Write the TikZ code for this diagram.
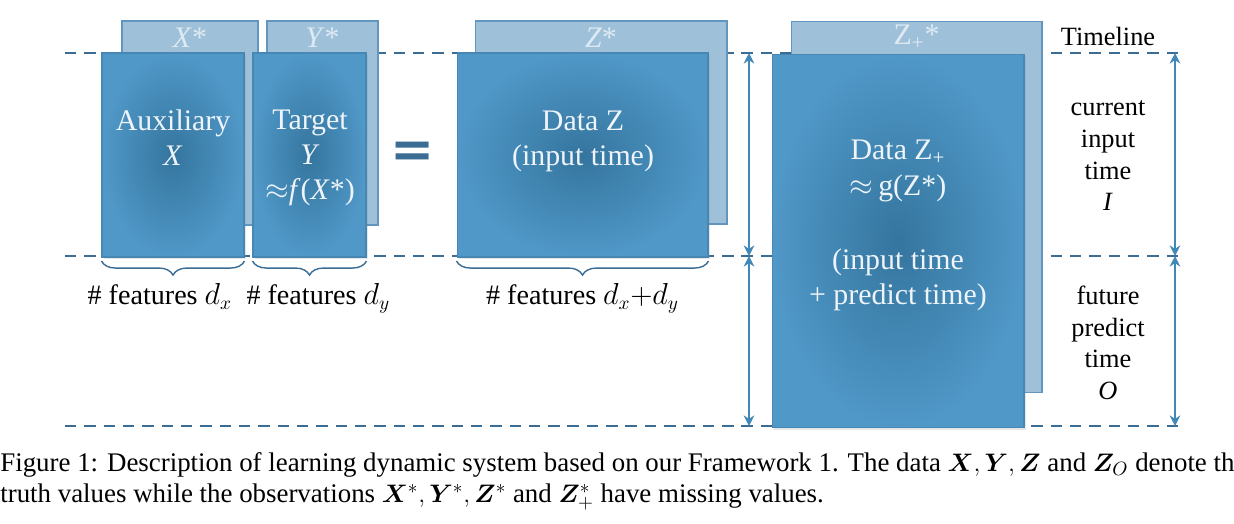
\documentclass[tikz,border=0pt]{standalone}
\usepackage{fontspec}
\setmainfont{Liberation Serif}
\newfontfamily\eqfont{DejaVu Sans}
\usepackage{bm}
\usepackage{tikz}
\usetikzlibrary{positioning, arrows.meta, decorations.pathreplacing, shadows}

\definecolor{frontlight}{RGB}{80,152,200}
\definecolor{frontdark}{RGB}{52,117,158}
\definecolor{backfill}{RGB}{158,193,217}
\definecolor{backline}{RGB}{98,150,190}
\definecolor{boxline}{RGB}{70,135,180}
\definecolor{dashcol}{RGB}{58,108,148}
\definecolor{arrowcol}{RGB}{66,136,182}
\definecolor{textlight}{RGB}{238,244,249}

\begin{document}
\begin{tikzpicture}[
            x=0.02cm, y=-0.02cm,
            backbox/.style={draw=backline, fill=backfill, line width=0.6pt, inner sep=0pt},
            frontbox/.style={draw=boxline, line width=0.6pt, shading=radial, inner color=frontdark, outer color=frontlight, inner sep=0pt, drop shadow={opacity=0.2, shadow xshift=1pt, shadow yshift=-1pt}},
            boxtext/.style={text=textlight, align=center, font=\fontsize{17}{20}\selectfont},
            startext/.style={text=textlight!80!backfill, font=\fontsize{17}{18}\selectfont},
            sidetext/.style={text=black, align=center, font=\fontsize{15}{18}\selectfont},
            featlabel/.style={text=black, font=\fontsize{16}{18}\selectfont},
            timeline/.style={dashcol, line width=1.1pt, dash pattern=on 6.5pt off 4.5pt},
            span/.style={arrowcol, line width=1.2pt, {Stealth[length=6pt, width=6pt]}-{Stealth[length=6pt, width=6pt]}},
            brace/.style={decorate, decoration={brace, mirror, amplitude=8pt}, dashcol, line width=0.8pt},
            captext/.style={anchor=west, inner sep=0pt, font=\fontsize{15.3}{17}\selectfont}
        ]
        \useasboundingbox (0,0) rectangle (1234,524);

        % Zeitlinien
        \coordinate (topL) at (65,53);
        \coordinate (topR) at (1180,53);
        \coordinate (midL) at (65,256);
        \coordinate (midR) at (1180,256);
        \coordinate (botL) at (65,426);
        \coordinate (botR) at (1180,426);
        \draw[timeline] (topL) -- (topR);
        \draw[timeline] (midL) -- (midR);
        \draw[timeline] (botL) -- (botR);

        % Beobachtungen (hinten)
        \node[backbox, minimum width=2.72cm, minimum height=4.08cm] (xstar) at (190,123) {};
        \node[backbox, minimum width=2.22cm, minimum height=4.08cm] (ystar) at (322.5,123) {};
        \node[backbox, minimum width=5.04cm, minimum height=4.06cm] (zstar) at (601,122.5) {};
        \node[backbox, minimum width=5.02cm, minimum height=7.44cm] (zpstar) at (916.5,207) {};
        \node[startext] at (190,38) {\textit{X}*};
        \node[startext] at (322.5,38) {\textit{Y}*};
        \node[startext] at (601,38) {\textit{Z}*};
        \node[startext] at (916.5,37) {Z\textsubscript{+}*};

        % Daten (vorne)
        \node[frontbox, minimum width=2.84cm, minimum height=4.08cm] (aux) at (173,155) {};
        \node[frontbox, minimum width=2.26cm, minimum height=4.08cm] (target) at (309.5,155) {};
        \node[frontbox, minimum width=5.02cm, minimum height=4.08cm] (dataz) at (582.5,155) {};
        \node[frontbox, minimum width=5.04cm, minimum height=7.48cm] (datazp) at (898,241) {};

        \node[boxtext] (auxtext) at (173,138) {Auxiliary\\\textit{X}};
        \node[boxtext] (targettext) at (310,158) {Target\\\textit{Y}\\$\approx$\textit{f}(\textit{X}*)};
        \node[boxtext] (dataztext) at (583,141) {Data Z\\(input time)};
        \node[boxtext] (datazptext) at (898,171) {Data Z\textsubscript{+}\\$\approx$\,g(Z*)};
        \node[boxtext] (datazptime) at (898,280) {(input time\\+ predict time)};

        \node[text=dashcol, font=\eqfont\bfseries\fontsize{30}{30}\selectfont] (eq) at (413,155) {=};

        % Klammern
        \draw[brace] ([yshift=-2pt]aux.south west) -- ([yshift=-2pt]aux.south east) node[midway, below=9pt, xshift=-7.5pt, featlabel] (dx) {\# features $d_x$};
        \draw[brace] ([yshift=-2pt]target.south west) -- ([yshift=-2pt]target.south east) node[midway, below=9pt, xshift=5pt, featlabel] (dy) {\# features $d_y$};
        \draw[brace] ([yshift=-2pt]dataz.south west) -- ([yshift=-2pt]dataz.south east) node[midway, below=9pt, featlabel] (dxy) {\# features $d_x{+}d_y$};

        % Pfeile
        \coordinate (la1) at (749,53);
        \coordinate (la2) at (749,256);
        \coordinate (la3) at (749,426);
        \coordinate (ra1) at (1175,53);
        \coordinate (ra2) at (1175,256);
        \coordinate (ra3) at (1175,426);
        \draw[span] (la1) -- (la2);
        \draw[span] (la2) -- (la3);
        \draw[span] (ra1) -- (ra2);
        \draw[span] (ra2) -- (ra3);

        % Zeitachse
        \node[sidetext] (timeline) at (1108,36) {Timeline};
        \node[sidetext] (current) at (1108,156) {current\\input\\time\\\textit{I}};
        \node[sidetext] (future) at (1108,343) {future\\predict\\time\\\textit{O}};

        % Bildunterschrift
        \node[captext] (cap1) at (0,465) {Figure 1: Description of learning dynamic system based on our Framework 1. The data $\bm{X}, \bm{Y}, \bm{Z}$ and $\bm{Z}_O$ denote th};
        \node[captext] (cap2) at (0,497) {truth values while the observations $\bm{X}^*, \bm{Y}^*, \bm{Z}^*$ and $\bm{Z}_+^*$ have missing values.};

    \end{tikzpicture}
\end{document}
